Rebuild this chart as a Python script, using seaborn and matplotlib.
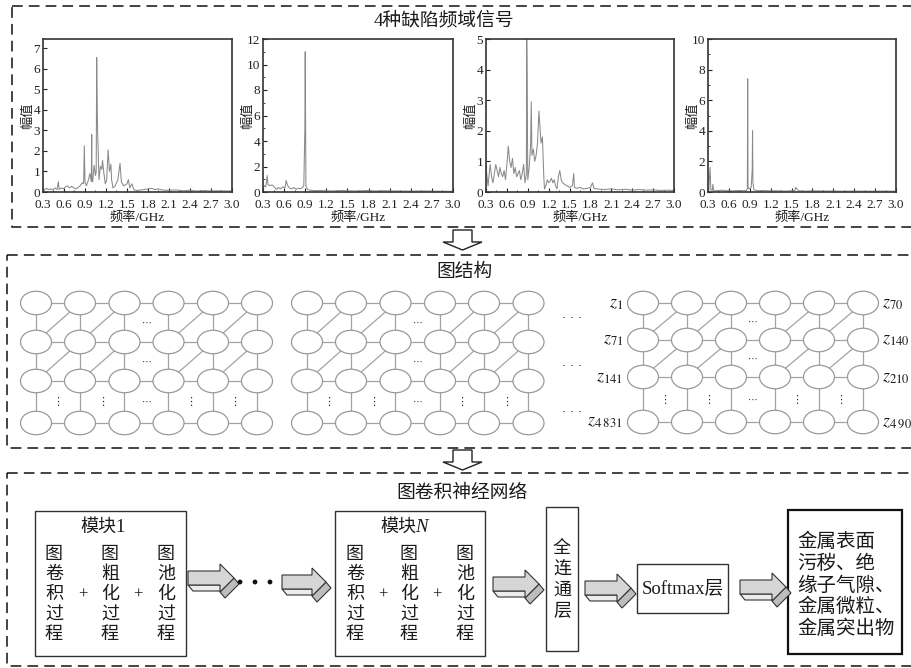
import matplotlib
matplotlib.use("Agg")
import matplotlib.pyplot as plt
import seaborn as sns
from matplotlib.patches import Rectangle, Ellipse, Polygon, Circle
from matplotlib.ticker import MultipleLocator

# ---------------- spectra of the four defect types ----------------
freq_ticks = [0.3, 0.6, 0.9, 1.2, 1.5, 1.8, 2.1, 2.4, 2.7, 3.0]
freq_tick_labels = ["0.3", "0.6", "0.9", "1.2", "1.5", "1.8", "2.1", "2.4", "2.7", "3.0"]

f1 = [0.30, 0.32, 0.35, 0.38, 0.41, 0.44, 0.47, 0.50, 0.52, 0.53, 0.56, 0.59, 0.62, 0.65, 0.68,
      0.71, 0.74, 0.77, 0.80, 0.83, 0.86, 0.88, 0.89, 0.90, 0.92, 0.95, 0.97, 0.99, 0.996, 1.00,
      1.01, 1.03, 1.05, 1.06, 1.067, 1.075, 1.08, 1.10, 1.12, 1.14, 1.15, 1.17, 1.19, 1.21, 1.23,
      1.25, 1.27, 1.28, 1.30, 1.33, 1.37, 1.40, 1.42, 1.45, 1.48, 1.50, 1.52, 1.54, 1.57, 1.60,
      1.65, 1.70, 1.75, 1.80, 1.85, 1.90, 1.95, 2.00, 2.10, 2.20, 2.30, 2.40, 2.50, 2.60, 2.70,
      2.80, 2.90, 3.00]
a1 = [0.15, 0.10, 0.18, 0.12, 0.15, 0.10, 0.20, 0.12, 0.50, 0.12, 0.20, 0.15, 0.25, 0.30, 0.20,
      0.28, 0.20, 0.15, 0.22, 0.30, 0.45, 0.40, 2.25, 0.50, 0.30, 0.60, 0.90, 0.50, 2.80, 0.60,
      0.50, 1.30, 0.80, 1.00, 6.55, 4.00, 3.00, 0.60, 1.25, 1.10, 1.55, 0.90, 0.40, 0.60, 2.05,
      1.00, 1.35, 0.60, 0.20, 0.30, 0.60, 1.40, 0.50, 0.30, 0.35, 0.40, 0.60, 0.20, 0.40, 0.10,
      0.08, 0.10, 0.12, 0.15, 0.18, 0.12, 0.15, 0.10, 0.08, 0.10, 0.06, 0.08, 0.05, 0.07, 0.05,
      0.06, 0.05, 0.05]

f2 = [0.30, 0.32, 0.34, 0.36, 0.37, 0.40, 0.43, 0.46, 0.49, 0.52, 0.55, 0.58, 0.61, 0.63, 0.65,
      0.68, 0.71, 0.74, 0.77, 0.80, 0.83, 0.86, 0.88, 0.895, 0.90, 0.91, 0.93, 0.96, 1.00, 1.05,
      1.10, 1.20, 1.30, 1.40, 1.50, 1.60, 1.70, 1.80, 1.90, 2.00, 2.20, 2.40, 2.60, 2.80, 3.00]
a2 = [0.30, 0.50, 0.40, 1.30, 0.60, 0.50, 0.55, 0.40, 0.20, 0.35, 0.25, 0.40, 0.30, 0.90, 0.50,
      0.30, 0.25, 0.35, 0.20, 0.30, 0.25, 0.35, 0.50, 5.00, 11.0, 0.50, 0.20, 0.15, 0.12, 0.10,
      0.12, 0.10, 0.08, 0.12, 0.10, 0.08, 0.10, 0.12, 0.08, 0.10, 0.08, 0.07, 0.08, 0.06, 0.05]

f3 = [0.30, 0.31, 0.33, 0.35, 0.36, 0.38, 0.40, 0.42, 0.44, 0.46, 0.48, 0.50, 0.52, 0.54, 0.56,
      0.58, 0.60, 0.61, 0.62, 0.64, 0.66, 0.68, 0.70, 0.72, 0.74, 0.76, 0.78, 0.80, 0.82, 0.84,
      0.86, 0.88, 0.885, 0.89, 0.90, 0.92, 0.94, 0.95, 0.96, 0.98, 1.00, 1.02, 1.04, 1.06, 1.07,
      1.09, 1.11, 1.13, 1.14, 1.16, 1.18, 1.20, 1.22, 1.24, 1.26, 1.28, 1.30, 1.32, 1.34, 1.36,
      1.38, 1.40, 1.43, 1.46, 1.50, 1.54, 1.56, 1.57, 1.60, 1.65, 1.70, 1.75, 1.80, 1.83, 1.85,
      1.90, 2.00, 2.10, 2.20, 2.30, 2.40, 2.50, 2.60, 2.70, 2.80, 2.90, 3.00]
a3 = [0.90, 0.60, 0.20, 0.70, 0.90, 0.50, 0.30, 0.60, 0.90, 0.70, 0.50, 0.80, 0.60, 0.50, 0.70,
      0.40, 0.90, 1.20, 1.50, 1.00, 0.80, 1.10, 0.60, 0.80, 0.50, 0.60, 0.70, 0.40, 0.60, 0.90,
      0.30, 0.60, 5.00, 3.80, 0.40, 0.80, 1.50, 2.95, 1.20, 1.40, 1.00, 1.20, 1.60, 2.65, 2.30,
      1.60, 1.80, 0.50, 0.10, 0.20, 0.40, 0.30, 0.35, 0.45, 0.30, 0.40, 0.20, 0.10, 0.50, 0.70,
      0.40, 0.30, 0.25, 0.20, 0.15, 0.20, 0.60, 0.15, 0.12, 0.15, 0.10, 0.12, 0.15, 0.30, 0.12,
      0.10, 0.08, 0.10, 0.07, 0.09, 0.06, 0.08, 0.06, 0.07, 0.05, 0.06, 0.05]

f4 = [0.30, 0.31, 0.33, 0.34, 0.36, 0.37, 0.38, 0.40, 0.45, 0.50, 0.55, 0.60, 0.65, 0.70, 0.75,
      0.80, 0.85, 0.865, 0.87, 0.875, 0.89, 0.92, 0.935, 0.94, 0.945, 0.96, 1.00, 1.05, 1.10, 1.20,
      1.30, 1.40, 1.50, 1.55, 1.56, 1.60, 1.70, 1.80, 1.90, 2.00, 2.10, 2.20, 2.40, 2.60, 2.80,
      3.00]
a4 = [0.30, 0.10, 1.60, 0.15, 0.10, 0.50, 0.10, 0.08, 0.10, 0.12, 0.08, 0.10, 0.07, 0.09, 0.10,
      0.08, 0.10, 0.20, 7.40, 0.30, 0.20, 0.30, 1.50, 4.00, 0.60, 0.15, 0.10, 0.08, 0.10, 0.07,
      0.08, 0.06, 0.08, 0.10, 0.30, 0.08, 0.06, 0.08, 0.07, 0.06, 0.07, 0.05, 0.06, 0.05, 0.06,
      0.05]

y_ticks_1 = [0, 1, 2, 3, 4, 5, 6, 7]
y_ticks_2 = [0, 2, 4, 6, 8, 10, 12]
y_ticks_3 = [0, 1, 2, 3, 4, 5]
y_ticks_4 = [0, 2, 4, 6, 8, 10]

# ---------------- text of the diagram ----------------
title_signal = "4种缺陷频域信号"
title_graph = "图结构"
title_gcn = "图卷积神经网络"
module_steps = ["图卷积过程", "图粗化过程", "图池化过程"]
fc_layer = "全连通层"
softmax_layer = "Softmax层"
output_lines = ["金属表面", "污秽、绝", "缘子气隙、", "金属微粒、", "金属突出物"]
left_node_labels = [r"$z_{1}$", r"$z_{71}$", r"$z_{141}$", r"$z_{4\;831}$"]
right_node_labels = [r"$z_{70}$", r"$z_{140}$", r"$z_{210}$", r"$z_{4\;900}$"]

sns.set_theme(style="ticks")
plt.rcParams["font.family"] = ["Liberation Serif", "Noto Sans CJK SC", "DejaVu Sans"]
plt.rcParams["mathtext.fontset"] = "stix"
plt.rcParams["axes.unicode_minus"] = False

W, H = 912, 668
fig = plt.figure(figsize=(W / 100, H / 100), dpi=100)
fig.patch.set_facecolor("white")

bg = fig.add_axes([0, 0, 1, 1])
bg.set_xlim(0, W)
bg.set_ylim(H, 0)
bg.axis("off")

TXT = "#1a1a1a"
DASH = (0, (7, 4))


def px_axes(l, t, r, b):
    return fig.add_axes([l / W, 1 - b / H, (r - l) / W, (b - t) / H])


def dashed_panel(x0, y0, x1, y1):
    bg.add_patch(Rectangle((x0, y0), x1 - x0, y1 - y0, fill=False, ec="#111111",
                           lw=1.1, ls=DASH, zorder=1))


def hollow_down_arrow(xc, ytop, ybase, ytip):
    pts = [(xc - 9.5, ytop), (xc + 9.5, ytop), (xc + 9.5, ybase), (xc + 19.5, ybase),
           (xc, ytip), (xc - 19.5, ybase), (xc - 9.5, ybase)]
    bg.add_patch(Polygon(pts, closed=True, fc="white", ec="#222222", lw=1.0, zorder=4))


def block_arrow(x0, yt, L=32, h=14):
    """Right-pointing extruded block arrow."""
    d = (5, 6)
    hx = x0 + L
    tip = (hx + 14, yt + h / 2)
    bottom = [(x0, yt + h), (hx, yt + h), (hx + d[0], yt + h + d[1]), (x0 + d[0], yt + h + d[1])]
    side = [tip, (hx, yt + h + 7), (hx + d[0], yt + h + 7 + d[1]), (tip[0] + d[0], tip[1] + d[1])]
    front = [(x0, yt), (hx, yt), (hx, yt - 7), tip, (hx, yt + h + 7), (hx, yt + h), (x0, yt + h)]
    bg.add_patch(Polygon(bottom, closed=True, fc="#ececec", ec="#333333", lw=0.8, zorder=4))
    bg.add_patch(Polygon(side, closed=True, fc="#bdbdbd", ec="#333333", lw=0.8, zorder=4))
    bg.add_patch(Polygon(front, closed=True, fc="#d6d6d6", ec="#333333", lw=0.8, zorder=5))


def node_grid(cols_x, rows_y, w=31, h=23.5):
    lc, lw = "#a3a3a3", 0.9
    for y in rows_y:
        for c in range(len(cols_x) - 1):
            bg.plot([cols_x[c], cols_x[c + 1]], [y, y], color=lc, lw=lw, zorder=2)
    for x in cols_x:
        for r in range(len(rows_y) - 1):
            bg.plot([x, x], [rows_y[r], rows_y[r + 1]], color=lc, lw=lw, zorder=2)
    for r in range(2):
        for c in [0, 1, 3, 4]:
            bg.plot([cols_x[c], cols_x[c + 1]], [rows_y[r + 1], rows_y[r]], color=lc, lw=lw, zorder=2)
    for x in cols_x:
        for y in rows_y:
            bg.add_patch(Ellipse((x, y), w, h, fc="white", ec="#9a9a9a", lw=0.9, zorder=3))
    mx = (cols_x[2] + cols_x[3]) / 2
    for r in range(3):
        bg.text(mx, (rows_y[r] + rows_y[r + 1]) / 2, "⋯", ha="center", va="center",
                fontsize=7, color="#333333", family="DejaVu Sans", zorder=4)
    for c in [0, 1, 3, 4]:
        bg.text((cols_x[c] + cols_x[c + 1]) / 2, (rows_y[2] + rows_y[3]) / 2, "⋮",
                ha="center", va="center", fontsize=8, color="#333333",
                family="DejaVu Sans", zorder=4)


# ---------------- panel 1: frequency-domain signals ----------------
dashed_panel(12, 6, 916, 227)
bg.text(444, 21, title_signal, ha="center", va="center", fontsize=13.5, color=TXT)

spectra = [
    ((43, 39, 232, 192), f1, a1, 7.45, y_ticks_1, None),
    ((263, 39, 453, 192), f2, a2, 12, y_ticks_2, 1),
    ((486, 39, 674, 192), f3, a3, 5, y_ticks_3, None),
    ((708, 39, 896, 192), f4, a4, 10, y_ticks_4, 1),
]
for box, fx, ay, ymax, yt, yminor in spectra:
    ax = px_axes(*box)
    ax.set_facecolor("white")
    sns.lineplot(x=fx, y=ay, ax=ax, color="#8a8a8a", linewidth=0.75, estimator=None)
    ax.set_xlim(0.3, 3.0)
    ax.set_ylim(0, ymax)
    ax.set_xticks(freq_ticks)
    ax.set_xticklabels(freq_tick_labels)
    ax.set_yticks(yt)
    ax.set_yticklabels([str(v) for v in yt])
    ax.xaxis.set_minor_locator(MultipleLocator(0.15))
    if yminor:
        ax.yaxis.set_minor_locator(MultipleLocator(yminor))
    ax.tick_params(which="major", direction="in", length=3, width=0.8, labelsize=9.5,
                   colors="#222222")
    ax.tick_params(axis="x", which="major", pad=5)
    ax.tick_params(axis="y", which="major", pad=2)
    ax.tick_params(which="minor", direction="in", length=1.6, width=0.6, colors="#222222")
    for s in ax.spines.values():
        s.set_linewidth(1.2)
        s.set_color("#333333")
    width_px = box[2] - box[0]
    ax.set_xlabel("频率/GHz", fontsize=9.5, color=TXT)
    ax.xaxis.set_label_coords(0.5, -0.125)
    ax.set_ylabel("幅值", fontsize=9.5, color=TXT)
    ax.yaxis.set_label_coords(-9 / width_px, 0.5)

hollow_down_arrow(462.5, 230, 242, 250)

# ---------------- panel 2: graph structure ----------------
dashed_panel(7, 255, 916, 448)
bg.text(465, 272, title_graph, ha="center", va="center", fontsize=13.5, color=TXT)

rows_a = [303, 342, 381, 423]
rows_b = [303, 340, 377, 422]
node_grid([36, 80, 124.5, 168.5, 213, 257], rows_a)
node_grid([307, 351, 395.5, 440, 484, 528.5], rows_a)
node_grid([643, 687, 731, 775, 819, 863], rows_b)

for y in [318, 366, 412]:
    bg.text(572, y, "· · ·", ha="center", va="center", fontsize=9, color="#222222",
            family="DejaVu Sans")
for lab, y in zip(left_node_labels, rows_b):
    bg.text(623, y, lab, ha="right", va="center", fontsize=13, color=TXT)
for lab, y in zip(right_node_labels, rows_b):
    bg.text(882, y, lab, ha="left", va="center", fontsize=13, color=TXT)

hollow_down_arrow(462.5, 450, 462, 470)

# ---------------- panel 3: graph convolutional network ----------------
dashed_panel(7, 473, 916, 666)
bg.text(462, 493, title_gcn, ha="center", va="center", fontsize=13.5, color=TXT)

char_y = [555, 575, 595, 615, 635]
for x0, x1, suffix, italic, cols, plus_x in [
        (35, 186, "1", False, [54, 110, 166], [83, 138]),
        (335, 485, "N", True, [355, 409, 465], [383, 437])]:
    bg.add_patch(Rectangle((x0, 511), x1 - x0, 145, fill=False, ec="#333333", lw=1.0, zorder=3))
    xm = (x0 + x1) / 2 + 6
    bg.text(xm, 527, "模块", ha="right", va="center", fontsize=13, color=TXT)
    bg.text(xm - 1, 527, suffix, ha="left", va="center", fontsize=13.5, color=TXT,
            style="italic" if italic else "normal")
    for cx, word in zip(cols, module_steps):
        for cy, ch in zip(char_y, word):
            bg.text(cx, cy, ch, ha="center", va="center", fontsize=13, color=TXT)
    for px in plus_x:
        bg.text(px, 595, "+", ha="center", va="center", fontsize=12, color=TXT)

block_arrow(188, 571)
for dx in [240, 255, 270]:
    bg.add_patch(Circle((dx, 582), 1.7, color="#111111", zorder=4))
block_arrow(282, 575, L=30)
block_arrow(493, 577)

bg.add_patch(Rectangle((546, 507), 32, 144, fill=False, ec="#333333", lw=1.0, zorder=3))
for cy, ch in zip([548, 569, 590, 611], fc_layer):
    bg.text(562, cy, ch, ha="center", va="center", fontsize=13, color=TXT)

block_arrow(585, 581)

bg.add_patch(Rectangle((637, 564), 91, 49, fill=False, ec="#333333", lw=1.0, zorder=3))
bg.text(682.5, 589, softmax_layer, ha="center", va="center", fontsize=13.5, color=TXT)

block_arrow(740, 580)

bg.add_patch(Rectangle((788, 510), 114, 144, fill=False, ec="#111111", lw=1.6, zorder=3))
for i, line in enumerate(output_lines):
    bg.text(797, 542 + 21.7 * i, line, ha="left", va="center", fontsize=14, color=TXT)

fig.savefig("out.png", dpi=100, facecolor="white")
